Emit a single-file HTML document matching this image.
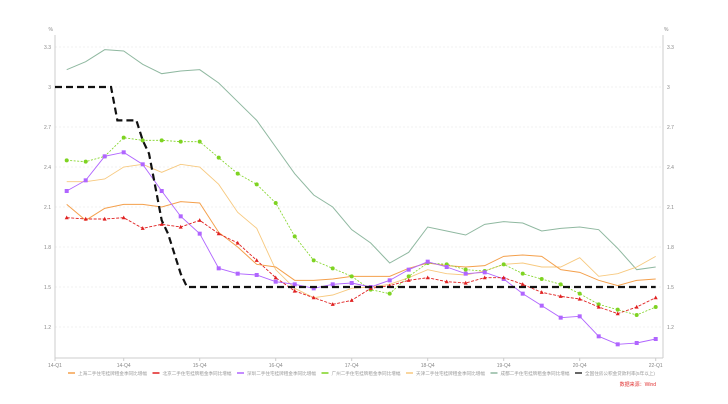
<!DOCTYPE html>
<html><head><meta charset="utf-8"><style>
body{margin:0;background:#fff;width:728px;height:404px;overflow:hidden}
svg{display:block;font-family:"Liberation Sans","Noto Sans CJK SC",sans-serif}
</style></head><body>
<svg id="chart" width="728" height="404" viewBox="0 0 728 404"></svg>
<script>
const categories=["14-Q1","14-Q2","14-Q3","14-Q4","15-Q1","15-Q2","15-Q3","15-Q4","16-Q1","16-Q2","16-Q3","16-Q4","17-Q1","17-Q2","17-Q3","17-Q4","18-Q1","18-Q2","18-Q3","18-Q4","19-Q1","19-Q2","19-Q3","19-Q4","20-Q1","20-Q2","20-Q3","20-Q4","21-Q1","21-Q2","21-Q3","21-Q4"];
const xTickLabels=["14-Q1","14-Q4","15-Q4","16-Q4","17-Q4","18-Q4","19-Q4","20-Q4","22-Q1"];
const xTickIndex=[0,3,7,11,15,19,23,27,31];
const yTicks=[1.2,1.5,1.8,2.1,2.4,2.7,3,3.3];
const shanghai=[2.12,2.00,2.09,2.12,2.12,2.10,2.14,2.13,1.91,1.80,1.67,1.65,1.55,1.55,1.56,1.58,1.58,1.58,1.64,1.68,1.66,1.65,1.66,1.73,1.74,1.73,1.63,1.61,1.55,1.51,1.55,1.56];
const beijing=[2.02,2.01,2.01,2.02,1.94,1.97,1.95,2.00,1.90,1.83,1.70,1.57,1.47,1.42,1.37,1.40,1.49,1.51,1.55,1.57,1.54,1.53,1.57,1.57,1.52,1.46,1.43,1.41,1.35,1.30,1.35,1.42];
const shenzhen=[2.22,2.30,2.48,2.51,2.42,2.22,2.03,1.90,1.64,1.60,1.59,1.54,1.52,1.49,1.52,1.53,1.50,1.55,1.63,1.69,1.65,1.60,1.61,1.56,1.45,1.36,1.27,1.28,1.13,1.07,1.08,1.11];
const guangzhou=[2.45,2.44,2.48,2.62,2.60,2.60,2.59,2.59,2.47,2.35,2.27,2.13,1.88,1.70,1.64,1.58,1.48,1.45,1.58,1.68,1.67,1.63,1.62,1.67,1.60,1.56,1.52,1.45,1.37,1.33,1.29,1.35];
const tianjin=[2.29,2.29,2.31,2.40,2.42,2.36,2.42,2.40,2.27,2.06,1.94,1.63,1.49,1.42,1.44,1.49,1.50,1.52,1.57,1.63,1.60,1.59,1.62,1.67,1.68,1.65,1.65,1.72,1.58,1.60,1.65,1.73];
const chengdu=[3.13,3.19,3.28,3.27,3.17,3.10,3.12,3.13,3.03,2.89,2.75,2.55,2.35,2.19,2.10,1.93,1.83,1.68,1.76,1.95,1.92,1.89,1.97,1.99,1.98,1.92,1.94,1.95,1.93,1.79,1.63,1.65];
const rateMonthly=[3,3,3,3,3,3,3,3,2.75,2.75,2.75,2.75,2.6,2.5,2.25,2,1.9,1.75,1.6,1.5];
const rateTail=1.5, rateMonths=94;
const seriesNames=["上海二手住宅挂牌租金季同比增幅","北京二手住宅挂牌租金季同比增幅","深圳二手住宅挂牌租金季同比增幅","广州二手住宅挂牌租金季同比增幅","天津二手住宅挂牌租金季同比增幅","成都二手住宅挂牌租金季同比增幅","全国住房公积金贷款利率(5年以上)"];

const NS="http://www.w3.org/2000/svg";
const svg=document.getElementById('chart');
const L=55,R=663,T=35,B=358;
const x=i=>66.7+19*i;
const y=v=>287-(v-1.5)*133.33;
function mk(tag,attrs,parent){const e=document.createElementNS(NS,tag);for(const k in attrs)e.setAttribute(k,attrs[k]);(parent||svg).appendChild(e);return e;}

yTicks.forEach(v=>{
  const g=mk('line',{x1:L,x2:R,y1:y(v),y2:y(v),stroke:'#eee','stroke-dasharray':'2,2','stroke-width':0.8});
  
  
  const t1=mk('text',{x:L-4,y:y(v)+2,'font-size':5,fill:'#888','text-anchor':'end'});t1.textContent=v;
  
  
  const t2=mk('text',{x:R+4,y:y(v)+2,'font-size':5,fill:'#888'});t2.textContent=v;
  
  
});
[[L-2,'end'],[R+1,'start']].forEach(([px,a])=>{const t=mk('text',{x:px,y:31,'font-size':5,fill:'#888','text-anchor':a});t.textContent='%';

});
const ax1=mk('line',{x1:L,x2:L,y1:T,y2:B,stroke:'#ccc'});


const ax2=mk('line',{x1:R,x2:R,y1:T,y2:B,stroke:'#ccc'});


const ax3=mk('line',{x1:L,x2:R,y1:B,y2:B,stroke:'#ccc'});


xTickLabels.forEach((lab,k)=>{
  const px=k===0?L:x(xTickIndex[k]);
  mk('line',{x1:px,x2:px,y1:B,y2:B+3,stroke:'#ccc'});
  const t=mk('text',{x:px,y:B+9,'font-size':5,fill:'#888','text-anchor':'middle'});t.textContent=lab;
  
  
});

function series(data,color,w,dash,marker,name){
  const g=mk('g',{});
  
  
  mk('polyline',{points:data.map((v,i)=>x(i)+','+y(v)).join(' '),fill:'none',stroke:color,'stroke-width':w,'stroke-dasharray':dash||'none'},g);
  if(marker)data.forEach((v,i)=>{
    let m;
    if(marker==='circle')m=mk('circle',{cx:x(i),cy:y(v),r:2,fill:color},g);
    else if(marker==='square')m=mk('rect',{x:x(i)-2,y:y(v)-2,width:4,height:4,fill:color},g);
    else m=mk('polygon',{points:`${x(i)},${y(v)-2.2} ${x(i)-2},${y(v)+1.6} ${x(i)+2},${y(v)+1.6}`,fill:color},g);
    
    
  });
}
series(chengdu,'#8fb8a0',1,null,null,'series-chengdu');
series(tianjin,'#f7c97f',0.9,null,null,'series-tianjin');
series(shanghai,'#f4a04c',1,null,null,'series-shanghai');
series(guangzhou,'#7ed321',0.8,'2,1.5','circle','series-guangzhou');
series(shenzhen,'#b065ff',0.9,null,'square','series-shenzhen');
series(beijing,'#e02020',0.9,'3,1.5','triangle','series-beijing');
const rate=[];for(let m=0;m<rateMonths;m++)rate.push(m<rateMonthly.length?rateMonthly[m]:rateTail);
const rl=mk('polyline',{points:L+','+y(rate[0])+' '+rate.map((v,m)=>(x(0)+m*19/3)+','+y(v)).join(' '),fill:'none',stroke:'#111','stroke-width':2.2,'stroke-dasharray':'7,4'});



const legColors=['#f4a04c','#e02020','#b065ff','#7ed321','#f7c97f','#8fb8a0','#333'];
seriesNames.forEach((n,k)=>{
  const lx=68+k*84.5;
  const g=mk('g',{});
  
  
  mk('line',{x1:lx,x2:lx+7,y1:373,y2:373,stroke:legColors[k],'stroke-width':1.5},g);
  const t=mk('text',{x:lx+10,y:375,'font-size':4.6,fill:'#999'},g);t.textContent=n;
});
const src=mk('text',{x:656,y:386,'font-size':5,fill:'#e03030','text-anchor':'end'});src.textContent='数据来源：Wind';


</script>
</body></html>
